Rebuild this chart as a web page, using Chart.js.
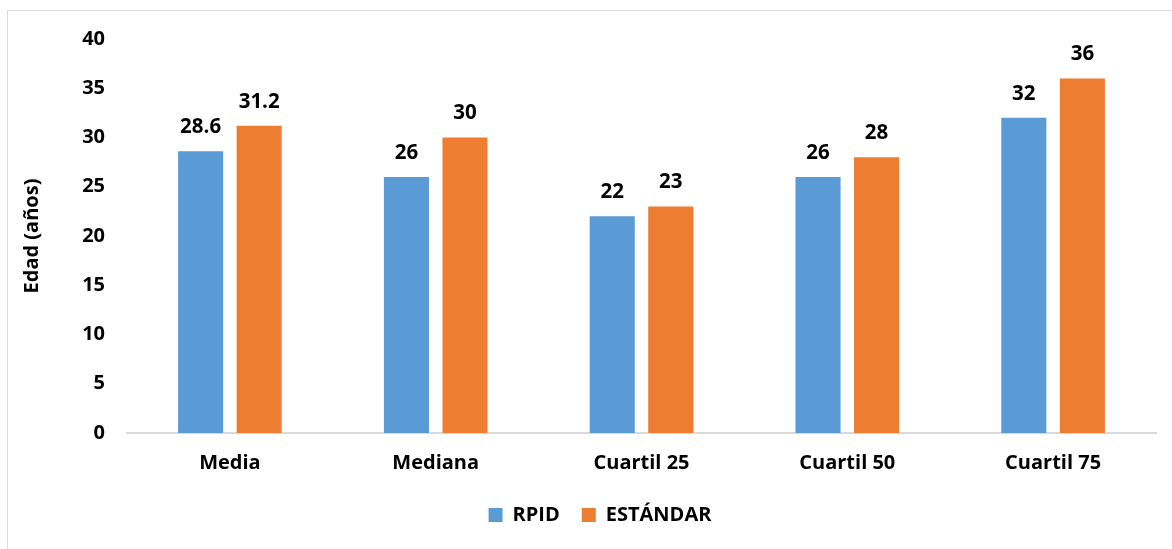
<!DOCTYPE html>
<html><head><meta charset="utf-8">
<script src="https://cdn.jsdelivr.net/npm/chart.js@4.4.1/dist/chart.umd.min.js"></script>
<style>
html,body{margin:0;padding:0;background:#fff;}
#wrap{position:relative;width:1172px;height:549px;}
#frame{position:absolute;left:7px;top:10px;width:1200px;height:600px;border:1px solid #d9d9d9;box-sizing:border-box;}
canvas{position:absolute;left:0;top:0;}
</style></head>
<body>
<div id="wrap"><div id="frame"></div><canvas id="c" width="1172" height="549"></canvas></div>
<script>
const categories = ["Media", "Mediana", "Cuartil 25", "Cuartil 50", "Cuartil 75"];
const rpid = [28.6, 26, 22, 26, 32];
const estandar = [31.2, 30, 23, 28, 36];
const yTicks = [0, 5, 10, 15, 20, 25, 30, 35, 40];

const FONT = "'Open Sans', sans-serif";

const labelPlugin = {
  id: 'valueLabels',
  afterLayout(chart) {
    if (chart.legend) { chart.legend.left += 12; chart.legend.right += 12; }
  },
  afterDatasetsDraw(chart) {
    const ctx = chart.ctx;
    ctx.save();
    ctx.font = "bold 20.5px " + FONT;
    ctx.fillStyle = "#000";
    ctx.textAlign = "center";
    ctx.textBaseline = "middle";
    chart.data.datasets.forEach((ds, i) => {
      chart.getDatasetMeta(i).data.forEach((bar, j) => {
        ctx.fillText(String(ds.data[j]), bar.x, bar.y - 24);
      });
    });
    ctx.restore();
  }
};

new Chart(document.getElementById('c'), {
  type: 'bar',
  data: {
    labels: categories,
    datasets: [
      {label: "RPID", data: rpid, backgroundColor: "#5b9bd5", borderWidth: 0},
      {label: "ESTÁNDAR", data: estandar, backgroundColor: "#ed7d31", borderWidth: 0}
    ]
  },
  options: {
    responsive: false,
    animation: false,
    devicePixelRatio: 1,
    layout: {padding: {left: 20, right: 16, top: 39, bottom: 14}},
    datasets: {bar: {categoryPercentage: 0.569, barPercentage: 0.77}},
    plugins: {
      tooltip: {enabled: false},
      legend: {
        position: 'bottom',
        labels: {
          font: {family: FONT, size: 20, weight: 'bold'},
          color: '#000',
          boxWidth: 14, boxHeight: 14, padding: 22,
          useBorderRadius: false
        }
      }
    },
    scales: {
      x: {
        afterFit(s) { s.height = 50; },
        grid: {display: false, drawTicks: false},
        border: {display: true, color: '#d9d9d9', width: 2},
        ticks: {font: {family: FONT, size: 20, weight: 'bold'}, color: '#000', padding: 18}
      },
      y: {
        min: 0, max: 40,
        afterBuildTicks(s) { s.ticks = yTicks.map(v => ({value: v})); },
        afterFit(s) { s.width = 107; },
        grid: {display: false, drawTicks: false},
        border: {display: false},
        ticks: {font: {family: FONT, size: 20, weight: 'bold'}, color: '#000', padding: 22},
        title: {display: true, text: 'Edad (años)', font: {family: FONT, size: 20, weight: 'bold'}, color: '#000', padding: 0}
      }
    }
  },
  plugins: [labelPlugin]
});
</script>
</body></html>
